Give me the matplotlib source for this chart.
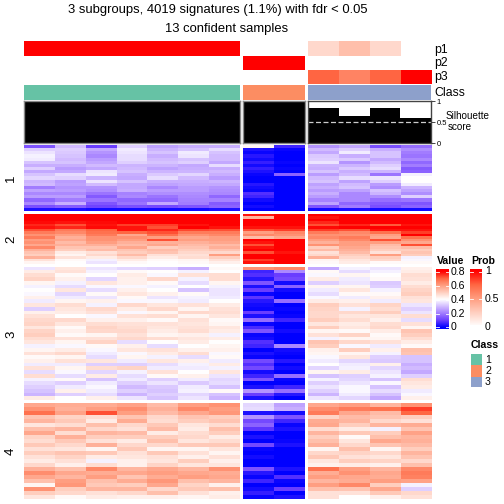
import numpy as np
import matplotlib
matplotlib.use('Agg')
import matplotlib.pyplot as plt
from matplotlib.colors import LinearSegmentedColormap

plt.rcParams['font.family'] = ['Liberation Sans', 'DejaVu Sans']
W = 504.0

# values x100, columns: 7 samples / 2 samples / 4 samples
block1 = [
 [14,30,10,33,26,28,28, 42,6, 24,27,13,18],
 [33,33,27,37,29,31,35, 3,1, 30,33,28,23],
 [36,32,24,36,31,37,31, 1,0, 27,37,31,20],
 [38,31,22,35,28,36,30, 4,0, 32,28,31,19],
 [37,30,25,35,30,31,30, 2,0, 33,32,27,22],
 [31,31,27,33,31,33,27, 5,1, 36,24,30,17],
 [28,28,30,29,29,27,35, 2,0, 29,29,33,20],
 [33,25,27,30,26,28,28, 5,1, 28,32,35,15],
 [27,27,36,31,29,29,30, 3,0, 31,28,29,16],
 [31,35,37,28,32,34,28, 1,16, 25,30,19,38],
 [34,33,29,27,35,30,25, 0,0, 30,35,36,40],
 [29,25,36,31,28,28,29, 0,0, 31,26,33,40],
 [30,26,30,27,26,27,27, 4,0, 26,30,25,37],
 [20,24,24,27,22,25,24, 2,0, 28,31,23,29],
 [26,25,23,28,25,25,23, 1,0, 25,26,31,26],
 [22,22,19,21,23,23,22, 8,0, 28,22,29,23],
 [25,25,15,22,19,22,17, 6,0, 25,22,23,33],
 [17,20,19,17,17,21,21, 2,0, 21,22,18,19],
 [22,28,14,19,27,20,15, 0,0, 26,17,15,14],
 [13,15,11,13,12,14,16, 2,0, 14,20,13,16],
 [3,3,2,2,2,2,3, 0,0, 2,3,2,2],
]
block2 = [
 [80,80,80,80,80,80,80, 78,80, 80,80,80,80],
 [80,80,80,80,80,80,80, 55,80, 78,80,80,80],
 [80,80,80,80,80,80,80, 80,80, 80,80,80,80],
 [79,78,79,80,80,80,80, 80,80, 76,80,80,80],
 [76,72,78,74,74,78,80, 80,80, 72,76,71,78],
 [78,76,79,78,72,80,78, 78,78, 79,80,80,80],
 [72,66,70,78,76,73,72, 72,74, 74,72,78,78],
 [66,64,68,70,72,66,66, 60,64, 66,64,68,74],
 [62,60,66,58,68,62,64, 64,62, 62,62,60,80],
 [66,56,62,62,60,58,60, 54,58, 64,66,58,68],
 [60,58,62,60,72,60,60, 80,80, 60,64,72,62],
 [62,54,60,56,56,56,58, 78,80, 56,60,60,58],
 [58,56,56,54,58,54,54, 72,80, 62,60,54,72],
 [64,52,52,58,50,52,56, 78,80, 50,58,52,54],
 [56,50,54,52,54,50,52, 80,80, 54,56,50,50],
 [52,44,46,50,52,48,48, 72,78, 46,54,46,52],
 [50,42,48,54,46,46,60, 80,80, 48,50,60,50],
 [56,46,44,48,44,47,50, 80,80, 56,48,50,38],
 [46,41,38,44,41,42,46, 74,80, 42,45,48,39],
 [42,40,36,41,40,41,43, 78,80, 41,44,41,41],
]
block3 = [
 [36,45,36,34,33,28,41, 62,64, 27,38,36,43],
 [44,46,38,41,40,38,40, 6,22, 41,35,38,44],
 [47,41,40,44,39,46,47, 8,10, 39,42,40,47],
 [49,43,34,43,48,38,47, 4,12, 44,37,41,46],
 [42,38,45,43,41,35,42, 14,2, 33,36,32,44],
 [38,35,39,39,38,40,38, 3,16, 42,42,33,47],
 [40,45,35,43,40,31,36, 10,2, 37,45,38,49],
 [39,34,41,45,43,41,36, 1,0, 35,41,41,50],
 [43,37,36,41,36,38,37, 9,0, 39,37,43,46],
 [37,42,43,39,39,37,40, 4,18, 44,43,37,45],
 [45,47,38,48,45,46,44, 2,0, 50,46,49,36],
 [33,45,48,44,48,42,46, 1,1, 49,38,47,33],
 [43,44,46,39,42,48,47, 10,0, 48,48,50,36],
 [46,40,39,46,47,42,45, 3,1, 48,45,45,47],
 [48,48,43,43,41,46,41, 18,6, 50,47,43,35],
 [49,45,47,46,46,45,42, 1,0, 45,44,47,46],
 [45,41,49,47,45,46,45, 7,0, 50,45,48,42],
 [49,43,48,48,44,47,44, 14,2, 42,41,44,52],
 [50,41,42,46,42,43,38, 1,0, 46,49,41,50],
 [47,46,46,48,47,45,44, 2,0, 38,42,42,47],
 [45,42,49,35,40,44,40, 8,0, 52,48,46,44],
 [38,39,41,43,35,40,42, 6,22, 50,39,37,41],
 [42,44,39,45,46,43,43, 0,2, 43,50,43,53],
 [46,48,37,39,44,47,39, 3,1, 42,42,38,52],
 [41,42,35,42,38,35,41, 1,0, 39,45,33,31],
 [43,46,45,37,45,43,37, 12,4, 37,34,32,31],
 [37,37,33,33,35,38,44, 8,0, 40,37,43,28],
 [46,42,47,49,37,37,38, 12,2, 34,38,34,30],
 [35,39,34,38,46,40,45, 2,0, 42,44,36,27],
 [47,35,44,35,41,43,36, 6,18, 31,33,38,33],
 [38,41,31,37,33,37,34, 14,1, 38,34,31,47],
 [35,33,37,33,36,32,35, 0,0, 33,36,39,45],
 [33,37,39,30,32,37,31, 3,6, 36,39,31,44],
 [31,43,37,33,31,38,41, 24,18, 33,39,35,37],
 [29,33,35,29,33,34,31, 10,4, 29,37,31,39],
 [44,40,43,36,31,36,29, 3,0, 36,34,27,43],
]
block4 = [
 [58,57,57,59,54,60,62, 34,26, 58,60,55,62],
 [62,56,60,63,56,64,60, 35,28, 63,66,68,74],
 [68,59,72,60,54,58,61, 3,2, 66,58,54,70],
 [52,49,47,52,48,52,50, 24,14, 49,54,52,50],
 [55,51,44,57,47,50,52, 12,6, 57,55,48,46],
 [45,47,53,48,51,45,47, 16,1, 58,50,55,57],
 [53,55,48,46,54,44,53, 9,3, 47,44,38,52],
 [58,47,55,54,44,47,50, 0,0, 55,51,50,59],
 [49,56,50,50,50,48,44, 3,0, 50,41,53,55],
 [47,51,46,44,53,45,47, 0,1, 53,45,58,56],
 [51,48,56,48,48,51,51, 12,3, 56,48,52,54],
 [46,45,42,51,42,42,45, 1,0, 42,53,42,50],
 [50,52,51,46,51,46,42, 0,0, 48,49,48,55],
 [46,49,44,45,46,43,46, 2,0, 51,46,45,52],
 [44,46,38,43,45,50,43, 0,0, 45,50,49,48],
 [48,43,47,43,49,45,45, 0,0, 43,44,43,53],
 [56,53,64,55,58,55,62, 14,3, 68,60,55,64],
 [63,58,57,58,60,58,57, 4,0, 57,62,58,66],
 [58,55,60,52,57,60,58, 1,8, 60,58,57,65],
 [53,60,53,57,61,53,55, 6,1, 55,57,60,59],
 [42,61,51,50,58,49,43, 0,0, 60,64,50,38],
 [62,50,55,55,48,51,53, 2,10, 53,52,58,33],
 [50,48,46,48,53,46,43, 5,0, 46,46,51,48],
 [45,41,44,43,43,42,44, 1,3, 46,40,43,46],
]
col_counts = [7, 2, 4]

# annotation rows
p1_vals = [1.0]*7 + [0.0]*2 + [0.2, 0.33, 0.2, 0.0]
p2_vals = [0.0]*7 + [1.0]*2 + [0.0]*4
p3_vals = [0.0]*7 + [0.0]*2 + [0.75, 0.62, 0.75, 1.0]
class_vals = [0]*7 + [1]*2 + [2]*4
silhouette = [1, 1, 1, 1, 1, 1, 1, 1, 1, 0.83, 0.66, 0.83, 0.6]
class_colors = ['#66C2A5', '#FC8D62', '#8DA0CB']
class_labels = ['1', '2', '3']
ann_names = ['p1', 'p2', 'p3', 'Class']
row_names = ['1', '2', '3', '4']
value_ticks = [0, 0.2, 0.4, 0.6, 0.8]
prob_ticks = [0, 0.5, 1]

value_cmap = LinearSegmentedColormap.from_list('val', [
    (0, '#0000FF'), (0.125, '#6A3DFF'), (0.25, '#A27CFF'), (0.375, '#D2BCFF'),
    (0.5, '#FFFFFF'), (0.625, '#FFCFC0'), (0.75, '#FF9E81'), (0.875, '#FF6743'), (1, '#FF0000')])
prob_cmap = LinearSegmentedColormap.from_list('prob', [
    (0, '#FFFFFF'), (0.25, '#FFCFC0'), (0.5, '#FF9E81'), (0.75, '#FF6743'), (1, '#FF0000')])

fig = plt.figure(figsize=(5.04, 5.04), dpi=100, facecolor='white')

def pax(x0, y0, x1, y1):
    # axes from pixel box, y measured from the top
    a = fig.add_axes([x0/W, 1-y1/W, (x1-x0)/W, (y1-y0)/W])
    a.set_xticks([]); a.set_yticks([])
    for sp in a.spines.values(): sp.set_visible(False)
    return a

def ptext(x, y, s, **kw):
    kw.setdefault('va', 'center')
    kw.setdefault('color', 'black')
    fig.text(x/W, 1-y/W, s, **kw)

groups = [(24, 240), (243, 304.5), (308, 431)]
blocks = [(block1, 145, 211), (block2, 214, 263.5), (block3, 267, 400.5), (block4, 403, 499)]

for data, y0, y1 in blocks:
    arr = np.array(data)/100.0
    start = 0
    for (x0, x1), n in zip(groups, col_counts):
        a = pax(x0, y0, x1, y1)
        a.imshow(arr[:, start:start+n], cmap=value_cmap, vmin=0, vmax=0.8, aspect='auto', interpolation='nearest')
        start += n

ann_rows = [(p1_vals, 41, 55.7), (p2_vals, 55.7, 70), (p3_vals, 70, 84)]
start = 0
for (x0, x1), n in zip(groups, col_counts):
    for vals, y0, y1 in ann_rows:
        a = pax(x0, y0, x1, y1)
        a.imshow(np.array(vals[start:start+n])[None, :], cmap=prob_cmap, vmin=0, vmax=1, aspect='auto', interpolation='nearest')
    a = pax(x0, 85, x1, 99.5)
    a.set_facecolor(class_colors[class_vals[start]])
    # silhouette
    a = pax(x0, 101, x1, 143)
    a.bar(np.arange(n), silhouette[start:start+n], width=1.0, color='black')
    a.set_xlim(-0.5, n-0.5); a.set_ylim(0, 1.01)
    if start == 9:
        a.axhline(0.5, color='#cccccc', lw=0.9, ls=(0, (4, 2)))
    for sp in a.spines.values():
        sp.set_visible(True); sp.set_color('#444444' if start == 9 else '#888888'); sp.set_linewidth(1.0)
    if start == 9:
        a.yaxis.tick_right()
        a.set_yticks([0, 0.5, 1])
        a.set_yticklabels(['0', '0.5', '1'], fontsize=5.5)
        a.tick_params(axis='y', length=3, width=0.7, pad=1, color='#444444')
    start += n

ptext(218, 10, '3 subgroups, 4019 signatures (1.1%) with fdr < 0.05', ha='center', fontsize=9.4)
ptext(227, 29, '13 confident samples', ha='center', fontsize=9.4)
for name, y in zip(ann_names, [49.5, 63, 77, 93]):
    ptext(434.5, y, name, fontsize=8.8)
ptext(446, 116, 'Silhouette', fontsize=7.1)
ptext(448, 127.5, 'score', fontsize=7.1)
for name, y in zip(row_names, [178, 239, 334, 451]):
    ptext(11, y, name, rotation=90, ha='center', fontsize=9.5)

# legends
ptext(437, 261, 'Value', fontsize=7.6, fontweight='bold')
a = pax(436, 269, 449, 329)
a.imshow(np.linspace(0.83, -0.02, 120)[:, None], cmap=value_cmap, vmin=0, vmax=0.8, aspect='auto')
for v, y in zip(value_ticks, [327, 314, 300, 286, 272]):
    ptext(451, y, f'{v:g}', fontsize=7.6)
    fig.add_artist(plt.Line2D([436/W, 439/W], [1-y/W]*2, color='white', lw=0.6))
    fig.add_artist(plt.Line2D([446/W, 449/W], [1-y/W]*2, color='white', lw=0.6))

ptext(471, 261, 'Prob', fontsize=7.6, fontweight='bold')
a = pax(470, 269, 482, 325)
a.imshow(np.linspace(1.03, 0.03, 120)[:, None], cmap=prob_cmap, vmin=0, vmax=1, aspect='auto')
for v, y in zip(prob_ticks, [327, 299, 271.5]):
    ptext(485, y, f'{v:g}', fontsize=7.6)
    if v == 0.5 or v == 1:
        fig.add_artist(plt.Line2D([470/W, 473/W], [1-y/W]*2, color='white', lw=0.6))
        fig.add_artist(plt.Line2D([479/W, 482/W], [1-y/W]*2, color='white', lw=0.6))

ptext(471, 345, 'Class', fontsize=7.6, fontweight='bold')
for col, lab, (y0, y1) in zip(class_colors, class_labels, [(353.5, 365), (365, 376.5), (376.5, 387)]):
    a = pax(470.5, y0, 481.5, y1)
    a.set_facecolor(col)
    ptext(485, (y0+y1)/2+0.5, lab, fontsize=7.6)

fig.savefig('out.png', dpi=100, facecolor='white')
